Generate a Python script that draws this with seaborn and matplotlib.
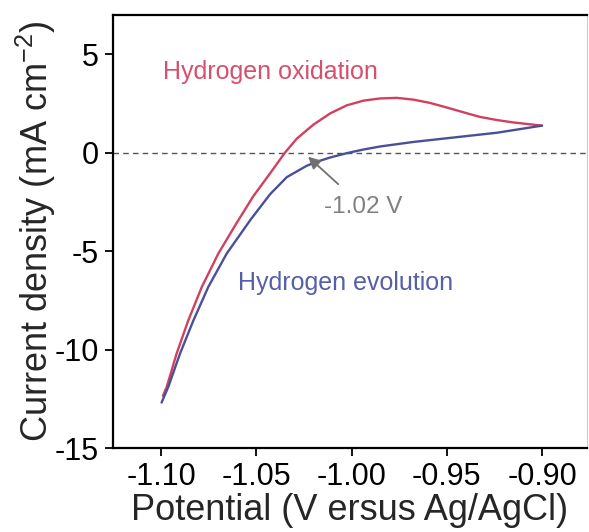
import matplotlib
matplotlib.use("Agg")
import matplotlib.pyplot as plt
import seaborn as sns
import pandas as pd

# Forward scan (hydrogen oxidation branch)
ox_potential = [-1.099, -1.097, -1.0918, -1.0857, -1.0786, -1.0699, -1.0602, -1.0515,
                -1.0427, -1.035, -1.0287, -1.020, -1.0112, -1.0025, -0.9937, -0.985,
                -0.9762, -0.9675, -0.9587, -0.950, -0.941, -0.9325, -0.9235, -0.915, -0.900]
ox_current = [-12.35, -11.9, -10.2, -8.52, -6.82, -5.12, -3.55, -2.2,
              -1.04, 0.0, 0.72, 1.43, 2.0, 2.41, 2.65, 2.76,
              2.79, 2.70, 2.53, 2.3, 2.05, 1.82, 1.66, 1.54, 1.38]

# Backward scan (hydrogen evolution branch)
ev_potential = [-0.900, -0.9235, -0.9535, -0.9675, -0.985, -0.994, -1.0025, -1.0112,
                -1.018, -1.0235, -1.034, -1.0427, -1.053, -1.0655, -1.0752, -1.083,
                -1.090, -1.0962, -1.0997]
ev_current = [1.38, 1.02, 0.70, 0.55, 0.32, 0.16, -0.02, -0.24,
              -0.45, -0.66, -1.24, -2.1, -3.4, -5.12, -6.82, -8.52,
              -10.2, -11.9, -12.69]

x_ticks = [-1.10, -1.05, -1.00, -0.95, -0.90]
x_tick_labels = ["-1.10", "-1.05", "-1.00", "-0.95", "-0.90"]
y_ticks = [5, 0, -5, -10, -15]
y_tick_labels = ["5", "0", "-5", "-10", "-15"]

onset_label = "-1.02 V"
onset_potential = -1.0228

df_ox = pd.DataFrame({"Potential": ox_potential, "Current": ox_current})
df_ev = pd.DataFrame({"Potential": ev_potential, "Current": ev_current})

sns.set_style("white")
plt.rcParams["font.family"] = ["Liberation Sans", "DejaVu Sans"]
plt.rcParams["mathtext.fontset"] = "custom"
plt.rcParams["mathtext.rm"] = "Liberation Sans"
plt.rcParams["mathtext.default"] = "regular"

RED = "#d1405f"
BLUE = "#4a5098"

fig = plt.figure(figsize=(5.89, 5.32), dpi=100)
ax = fig.add_axes([113 / 589, 1 - 448 / 532, (587 - 113) / 589, (448 - 15) / 532])

ax.axhline(0, color="#555555", lw=1.0, ls=(0, (4, 3)), zorder=1)

sns.lineplot(data=df_ox, x="Potential", y="Current", sort=False, color=RED, lw=1.7,
             ax=ax, zorder=3)
sns.lineplot(data=df_ev, x="Potential", y="Current", sort=False, color=BLUE, lw=1.7,
             ax=ax, zorder=3)

ax.set_xlim(-1.1252, -0.8764)
ax.set_ylim(-15, 7)
ax.set_xticks(x_ticks)
ax.set_xticklabels(x_tick_labels)
ax.set_yticks(y_ticks)
ax.set_yticklabels(y_tick_labels)
ax.tick_params(axis="both", direction="out", length=6, width=1.3, labelsize=22,
               color="black", labelcolor="black", pad=4, bottom=True, left=True)

for side in ["left", "bottom", "top"]:
    ax.spines[side].set_color("black")
    ax.spines[side].set_linewidth(1.6)
ax.spines["right"].set_color("#cccccc")
ax.spines["right"].set_linewidth(0.8)

ax.set_xlabel("Potential (V ersus Ag/AgCl)", fontsize=26, labelpad=1)
ax.set_ylabel("Current density (mA cm$^{-2}$)", fontsize=26, labelpad=-2)

ax.text(-1.099, 4.1, "Hydrogen oxidation", color="#d4506c", fontsize=18,
        ha="left", va="center")
ax.text(-1.0596, -6.6, "Hydrogen evolution", color="#5760a6", fontsize=18,
        ha="left", va="center")

ax.annotate(onset_label, xy=(onset_potential, -0.2), xytext=(-0.9939, -2.75),
            color="#808080", fontsize=17.5, ha="center", va="center",
            arrowprops=dict(arrowstyle="-|>", color="#707070", lw=1.3,
                            mutation_scale=18, shrinkA=9, shrinkB=0))

fig.savefig("out.png", dpi=100)
